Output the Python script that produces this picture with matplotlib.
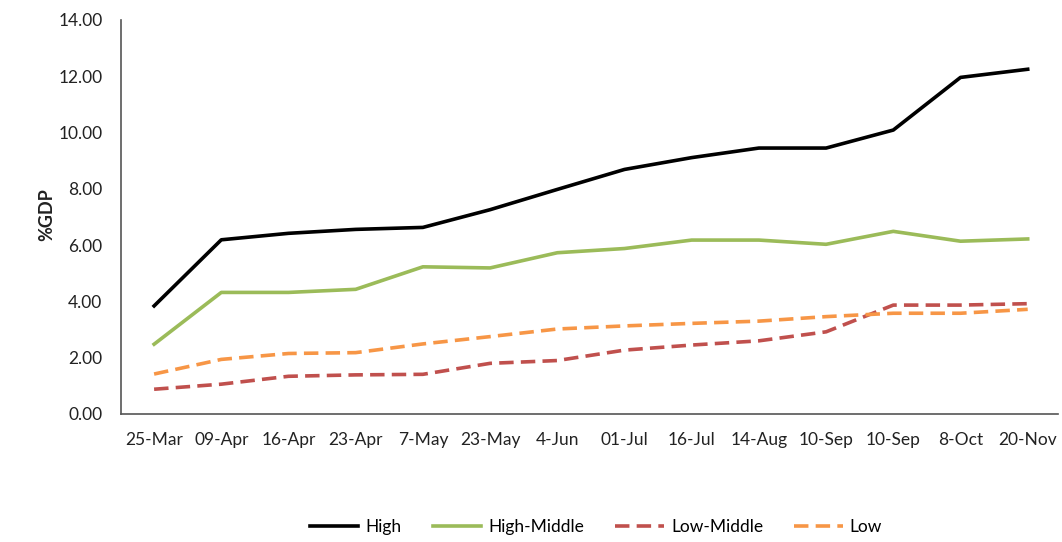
import matplotlib
matplotlib.use("Agg")
import matplotlib.pyplot as plt
import numpy as np

categories = ["25-Mar", "09-Apr", "16-Apr", "23-Apr", "7-May", "23-May", "4-Jun",
              "01-Jul", "16-Jul", "14-Aug", "10-Sep", "10-Sep", "8-Oct", "20-Nov"]
high = [3.84, 6.19, 6.42, 6.56, 6.63, 7.26, 7.98, 8.69, 9.11, 9.45, 9.45, 10.09, 11.96, 12.25]
high_middle = [2.48, 4.32, 4.32, 4.43, 5.23, 5.19, 5.73, 5.88, 6.18, 6.18, 6.03, 6.49, 6.14, 6.22]
low_middle = [0.88, 1.06, 1.34, 1.39, 1.41, 1.80, 1.90, 2.27, 2.45, 2.60, 2.92, 3.87, 3.87, 3.92]
low = [1.42, 1.94, 2.15, 2.18, 2.49, 2.75, 3.02, 3.13, 3.22, 3.30, 3.46, 3.58, 3.58, 3.72]

plt.rcParams['font.family'] = ['Lato', 'DejaVu Sans']

fig = plt.figure(figsize=(10.62, 5.42), dpi=100)
ax_left, ax_right = 120.5, 1058
ax = fig.add_axes([ax_left/1062, 1-414/542, (ax_right-ax_left)/1062, (414-20)/542])

x = np.arange(len(categories))
lw = 2.6
ax.plot(x, high, color="#000000", lw=lw, label="High")
ax.plot(x, high_middle, color="#9BBB59", lw=lw, label="High-Middle")
ax.plot(x, low_middle, color="#C0504D", lw=lw, label="Low-Middle", dashes=(4, 2))
ax.plot(x, low, color="#F79646", lw=lw, label="Low", dashes=(4, 2))

step = 67.2
ax.set_xlim(-0.5, -0.5 + (ax_right-ax_left)/step)
ax.set_ylim(0, 14)
ax.set_yticks(np.arange(0, 15, 2))
ax.set_yticklabels([f"{v:.2f}" for v in np.arange(0, 15, 2)])
ax.set_xticks(x)
ax.set_xticklabels(categories)
ax.tick_params(axis="both", length=0, labelsize=12.5, colors="#222222")
ax.tick_params(axis="x", pad=13)
ax.tick_params(axis="y", pad=13)

for s in ["top", "right"]:
    ax.spines[s].set_visible(False)
for s in ["left", "bottom"]:
    ax.spines[s].set_color("#555555")
    ax.spines[s].set_linewidth(1.2)

fig.text(47/1062, 1-215/542, "%GDP", rotation=90, ha="center", va="center",
         fontsize=13, fontweight="bold", color="#222222")

fig.legend(loc="center", bbox_to_anchor=(596/1062, 1-527/542), ncol=4, frameon=False,
           fontsize=12.5, handlelength=2.8, handletextpad=0.4, columnspacing=1.8)

fig.savefig("out.png", dpi=100, facecolor="white")
